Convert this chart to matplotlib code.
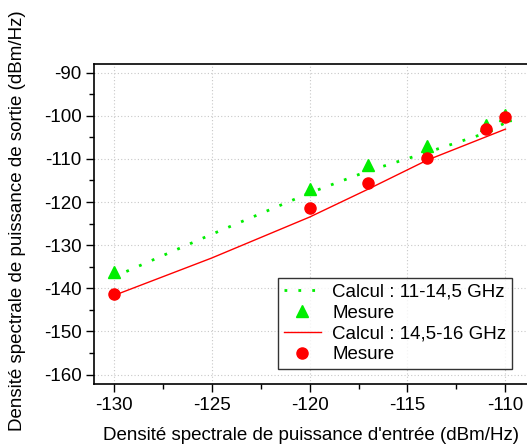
import numpy as np
import matplotlib
matplotlib.use("Agg")
import matplotlib.pyplot as plt
from matplotlib.ticker import MultipleLocator

plt.rcParams['font.family'] = ['Liberation Sans', 'DejaVu Sans']
plt.rcParams['axes.unicode_minus'] = False

# Données
x_mes = np.array([-130, -120, -117, -114, -111, -110])
y_mes_1 = np.array([-136.2, -116.9, -111.5, -106.9, -102.2, -99.8])   # Mesure 11-14,5 GHz
y_mes_2 = np.array([-141.3, -121.5, -115.7, -109.8, -103.0, -100.2])  # Mesure 14,5-16 GHz

x_calc_1 = np.array([-130, -125, -120, -117, -114, -111, -110])
y_calc_1 = np.array([-137.4, -127.5, -117.9, -112.8, -108.5, -104.0, -101.6])

x_calc_2 = np.array([-130, -125, -120, -117, -114, -111, -110])
y_calc_2 = np.array([-141.7, -133.0, -123.5, -117.0, -110.3, -104.9, -103.1])

fig = plt.figure(figsize=(5.27, 4.48), dpi=100)
ax = fig.add_axes([94 / 527, (448 - 384) / 448, 434 / 527, 320 / 448])

vert = '#00ee00'
rouge = '#ff0000'

ax.plot(x_calc_1, y_calc_1, linestyle=(0, (1, 4)), color=vert, lw=2,
        label='Calcul : 11-14,5 GHz')
ax.plot(x_mes, y_mes_1, '^', color=vert, ms=9, linestyle='none', label='Mesure')
ax.plot(x_calc_2, y_calc_2, '-', color=rouge, lw=1, label='Calcul : 14,5-16 GHz')
ax.plot(x_mes, y_mes_2, 'o', color=rouge, ms=8, linestyle='none', label='Mesure')

ax.set_xlim(-131, -108.85)
ax.set_ylim(-162.2, -88)
ax.xaxis.set_major_locator(MultipleLocator(5))
ax.xaxis.set_minor_locator(MultipleLocator(2.5))
ax.yaxis.set_major_locator(MultipleLocator(10))
ax.yaxis.set_minor_locator(MultipleLocator(5))
ax.grid(True, which='major', color='#c8c8c8', linestyle=(0, (1, 2)), lw=0.8)
ax.tick_params(which='major', direction='out', length=6, width=1,
               labelsize=13.5, pad=3)
ax.tick_params(which='minor', direction='out', length=3.5, width=1)
ax.tick_params(top=False, right=False)
ax.spines['right'].set_visible(False)
for s in ax.spines.values():
    s.set_linewidth(1.2)

ax.set_xlabel("Densité spectrale de puissance d'entrée (dBm/Hz)", fontsize=13.5)
ax.set_ylabel("Densité spectrale de puissance de sortie (dBm/Hz)", fontsize=13.5)
ax.xaxis.set_label_coords(0.5, -0.135)
ax.yaxis.set_label_coords(-0.157, 0.51)

leg = ax.legend(loc='lower right', bbox_to_anchor=(0.963, 0.047), fontsize=13.5,
                frameon=True, fancybox=False, edgecolor='black',
                handlelength=2.0, handletextpad=0.6, borderpad=0.3,
                labelspacing=0.2, borderaxespad=0)
leg.get_frame().set_linewidth(1)

fig.savefig('out.png', dpi=100)
